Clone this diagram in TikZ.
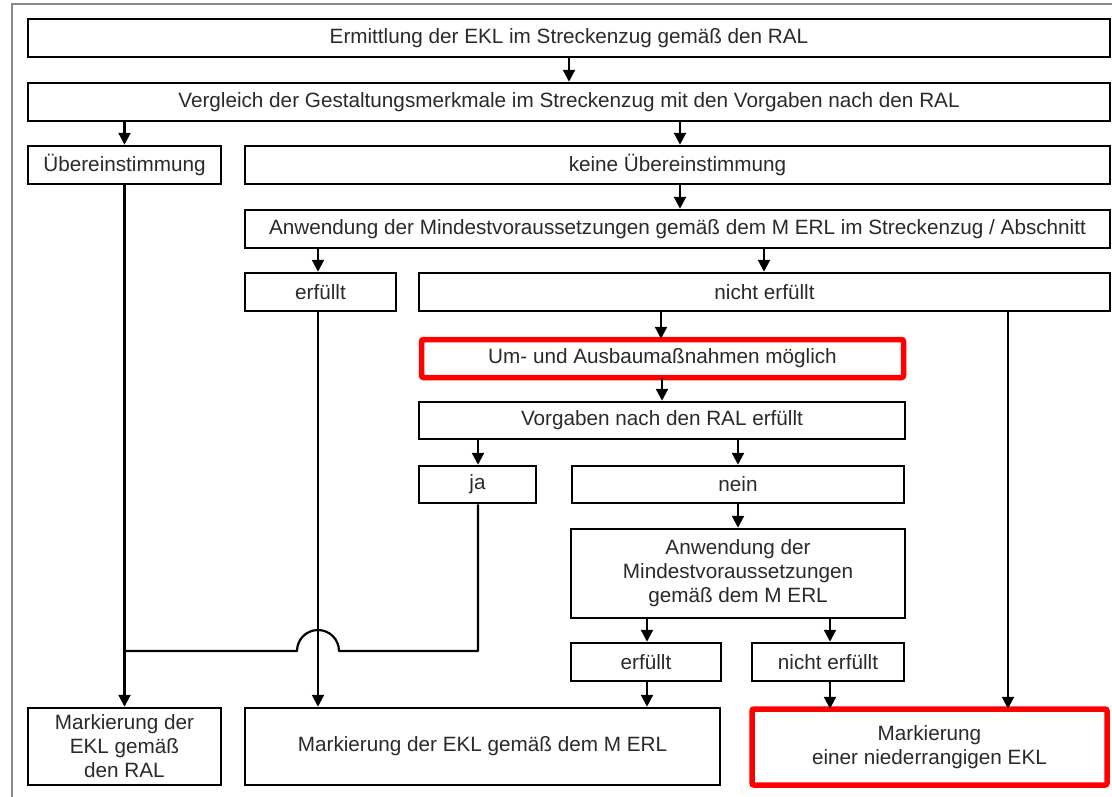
\documentclass[tikz,border=0pt]{standalone}
\usepackage{fontspec}
\setmainfont{Liberation Sans}
\usetikzlibrary{arrows.meta}
\definecolor{txt}{HTML}{2A2A2A}
\definecolor{frame}{HTML}{8A8A8A}
\begin{document}
\begin{tikzpicture}[x=1pt,y=-1pt,
  box/.style={draw=black,line width=2.5pt,fill=white,inner sep=0pt,
    text=txt,font=\fontsize{20.7}{24}\selectfont,align=center},
  redbox/.style={draw=red,line width=5.5pt,fill=white,inner sep=0pt,rounded corners=2pt,
    text=txt,font=\fontsize{20.7}{24}\selectfont,align=center},
  arr/.style={line width=2.2pt,-{Triangle[length=12pt,width=12pt]}},
  ln/.style={line width=2.2pt}]
\useasboundingbox (0,0) rectangle (1112,796);
\fill[white] (0,0) rectangle (1112,796);
\draw[frame,line width=1.5pt] (12,800) -- (12,4) -- (1120,4);

\node[box,minimum width=1082,minimum height=38] (b1) at (569,38) {Ermittlung der EKL im Streckenzug gemäß den RAL};
\node[box,minimum width=1082,minimum height=38] (b2) at (569,102) {Vergleich der Gestaltungsmerkmale im Streckenzug mit den Vorgaben nach den RAL};
\node[box,minimum width=193,minimum height=38] (ueb) at (124.5,165) {Übereinstimmung};
\node[box,minimum width=865,minimum height=38] (keine) at (677.5,165) {keine Übereinstimmung};
\node[box,minimum width=865,minimum height=38] (anw1) at (677.5,229) {Anwendung der Mindestvoraussetzungen gemäß dem M ERL im Streckenzug / Abschnitt};
\node[box,minimum width=151,minimum height=38] (erf1) at (320.5,292) {erfüllt};
\node[box,minimum width=691,minimum height=38] (nerf1) at (764.5,292) {nicht erfüllt};
\node[redbox,minimum width=482,minimum height=38] (um) at (662.5,358.5) {Um- und Ausbaumaßnahmen möglich};
\node[box,minimum width=486,minimum height=37] (vorg) at (662,420.5) {Vorgaben nach den RAL erfüllt};
\node[box,minimum width=117,minimum height=37] (ja) at (477.5,484.5) {ja};
\node[box,minimum width=332,minimum height=37] (nein) at (738,484.5) {nein};
\node[box,minimum width=334,minimum height=89] (anw2) at (738,573.5) {Anwendung der\\Mindestvoraussetzungen\\gemäß dem M ERL};
\node[box,minimum width=150,minimum height=38] (erf2) at (646,662) {erfüllt};
\node[box,minimum width=152,minimum height=38] (nerf2) at (828,662) {nicht erfüllt};
\node[box,minimum width=193,minimum height=77] (m1) at (124.5,746.5) {Markierung der\\EKL gemäß\\den RAL};
\node[box,minimum width=475,minimum height=77] (m2) at (482.5,746.5) {Markierung der EKL gemäß dem M ERL};
\node[redbox,minimum width=355,minimum height=76] (m3) at (929.5,747) {Markierung\\einer niederrangigen EKL};

\draw[arr] (b1.south -| 569,0) -- (b2.north -| 569,0);
\draw[arr] (b2.south -| ueb.north) -- (ueb.north);
\draw[arr] (b2.south -| 680,0) -- (keine.north -| 680,0);
\draw[arr] (keine.south -| 680,0) -- (anw1.north -| 680,0);
\draw[arr] (anw1.south -| 318,0) -- (erf1.north -| 318,0);
\draw[arr] (anw1.south -| 764,0) -- (nerf1.north -| 764,0);
\draw[arr] (nerf1.south -| 661,0) -- ([yshift=-2pt]um.north -| 661,0);
\draw[arr] ([yshift=2pt]um.south -| 662,0) -- (vorg.north -| 662,0);
\draw[arr] (vorg.south -| 478,0) -- (ja.north -| 478,0);
\draw[arr] (vorg.south -| 738,0) -- (nein.north -| 738,0);
\draw[arr] (nein.south) -- (anw2.north);
\draw[arr] (anw2.south -| 647,0) -- (erf2.north -| 647,0);
\draw[arr] (anw2.south -| 830,0) -- (nerf2.north -| 830,0);
\draw[arr] (erf2.south -| 647,0) -- (m2.north -| 647,0);
\draw[arr] (nerf2.south -| 830,0) -- ([yshift=-2.5pt]m3.north -| 830,0);
\draw[arr] (nerf1.south -| 1008,0) -- ([yshift=-2.5pt]m3.north -| 1008,0);
\draw[arr] (ueb.south) -- (m1.north);
\draw[arr] (erf1.south -| 318,0) -- (m2.north -| 318,0);

\coordinate (jb) at (478,651);
\coordinate (jl) at (124,651);
\draw[ln,line join=round] (ja.south -| 478,0) -- (jb) -- (339,651) arc[start angle=0,end angle=-180,radius=21] -- (jl);
\end{tikzpicture}
\end{document}
